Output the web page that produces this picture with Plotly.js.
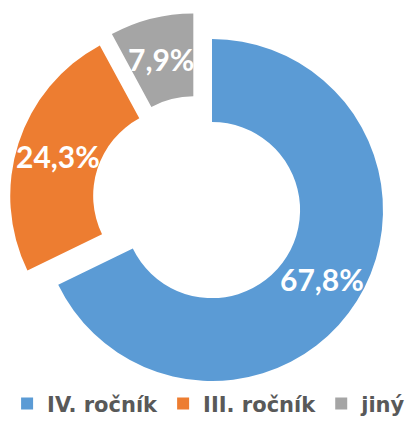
<!DOCTYPE html>
<html>
<head>
<meta charset="utf-8">
<script src="https://cdn.plot.ly/plotly-3.0.1.min.js"></script>
<style>html,body{margin:0;padding:0;background:#fff;}#chart{width:406px;height:421px;}</style>
</head>
<body>
<div id="chart"></div>
<script>
const categories = ["IV. ročník", "III. ročník", "jiný"];
const shares = [67.8, 24.3, 7.9];
const colors = ["#5B9BD5", "#ED7D31", "#A5A5A5"];

const W = 406, H = 421;
const HOLE = 0.515, PULL = 0.1;
const DOM_X = [0.0232, 0.9498], DOM_Y = [0.0758, 0.9694];

const trace = {
  type: "pie",
  labels: categories,
  values: shares,
  sort: false,
  direction: "clockwise",
  rotation: 0,
  hole: HOLE,
  pull: shares.map(() => PULL),
  marker: { colors: colors, line: { width: 0 } },
  textinfo: "none",
  hoverinfo: "none",
  domain: { x: DOM_X, y: DOM_Y }
};

// data labels placed at the middle of each ring segment (mid-angle), computed from the values
const boxW = W * (DOM_X[1] - DOM_X[0]);
const boxH = H * (DOM_Y[1] - DOM_Y[0]);
const R = Math.min(boxW, boxH) / (2 * (1 + PULL));
const CX = W * (DOM_X[0] + DOM_X[1]) / 2;
const CY = H * (1 - (DOM_Y[0] + DOM_Y[1]) / 2);
const total = shares.reduce((a, b) => a + b, 0);
let cum = 0;
const annotations = shares.map((v) => {
  const mid = (cum + v / 2) / total * 2 * Math.PI;
  cum += v;
  const dist = PULL * R + R * (1 + HOLE) / 2;
  const px = CX + dist * Math.sin(mid);
  const py = CY - dist * Math.cos(mid);
  return {
    xref: "paper", yref: "paper",
    x: px / W, y: 1 - py / H,
    xanchor: "center", yanchor: "middle",
    showarrow: false,
    text: (v / total * 100).toFixed(1).replace(".", ",") + "%",
    font: { family: "Lato, 'Open Sans', sans-serif", size: 30, color: "#FFFFFF", weight: "bold" }
  };
});

const layout = {
  width: W,
  height: H,
  margin: { l: 0, r: 0, t: 0, b: 0, autoexpand: false },
  paper_bgcolor: "#FFFFFF",
  showlegend: true,
  legend: {
    orientation: "h",
    x: 0.515, xanchor: "center",
    y: -0.008, yanchor: "bottom",
    font: { family: "'DejaVu Sans', sans-serif", size: 21, color: "#595959", weight: "bold" },
    traceorder: "normal"
  },
  annotations: annotations
};

Plotly.newPlot("chart", [trace], layout, { staticPlot: true, displayModeBar: false });
</script>
</body>
</html>
